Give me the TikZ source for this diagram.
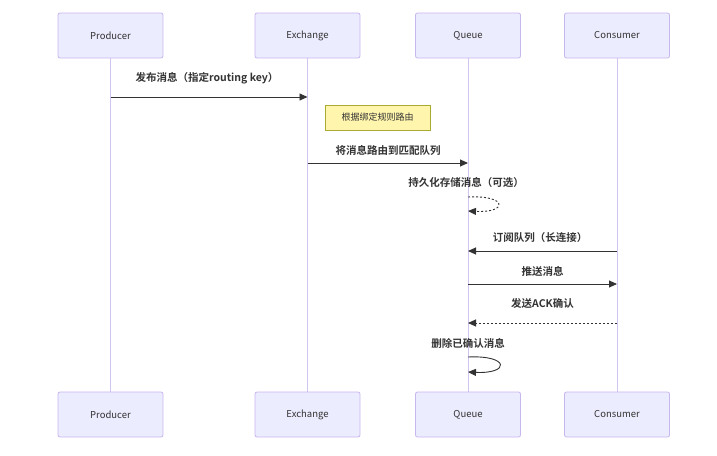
\documentclass[tikz,border=0pt]{standalone}
\usepackage{fontspec}
\setmainfont{Noto Sans CJK SC}
\newfontfamily\cjkbold{Noto Sans CJK SC Bold}
\usetikzlibrary{arrows.meta}
\definecolor{actfill}{HTML}{ECECFF}
\definecolor{actline}{HTML}{C8B6EE}
\definecolor{lifeline}{HTML}{D0C4F0}
\definecolor{txt}{HTML}{333333}
\definecolor{notefill}{HTML}{FFF5AD}
\definecolor{noteline}{HTML}{AAAA33}
\tikzset{
  actor/.style={draw=actline, fill=actfill, rounded corners=2pt, minimum width=105pt, minimum height=45pt, inner sep=0pt, font=\fontsize{9.5}{11}\selectfont, text=txt, line width=0.8pt},
  life/.style={draw=lifeline, line width=0.9pt},
  msg/.style={draw=txt, line width=0.9pt, -{Triangle[length=8pt,width=7pt]}},
  dmsg/.style={msg, dash pattern=on 2pt off 2pt},
  lbl/.style={font=\cjkbold\fontsize{10.5}{12}\selectfont, text=txt, inner sep=0pt},
  note/.style={draw=noteline, fill=notefill, minimum width=105pt, minimum height=25pt, inner sep=0pt, font=\fontsize{9}{11}\selectfont, text=txt, line width=0.6pt}
}
\begin{document}
\begin{tikzpicture}[x=1pt,y=-1pt]
\useasboundingbox (0,0) rectangle (717,455);
% lifelines
\coordinate (pT) at (110.5,58); \coordinate (pB) at (110.5,392);
\coordinate (eT) at (307.5,58); \coordinate (eB) at (307.5,392);
\coordinate (qT) at (468,58); \coordinate (qB) at (468,392);
\coordinate (cT) at (617,58); \coordinate (cB) at (617,392);
\draw[life] (pT) -- (pB);
\draw[life] (eT) -- (eB);
\draw[life] (qT) -- (qB);
\draw[life] (cT) -- (cB);
% actors
\node[actor] (p1) at (110.5,35.5) {Producer};
\node[actor] (e1) at (307.5,35.5) {Exchange};
\node[actor] (q1) at (468,35.5) {Queue};
\node[actor] (c1) at (617,35.5) {Consumer};
\node[actor] (p2) at (110.5,414.5) {Producer};
\node[actor] (e2) at (307.5,414.5) {Exchange};
\node[actor] (q2) at (468,414.5) {Queue};
\node[actor] (c2) at (617,414.5) {Consumer};
% message 1
\coordinate (m1a) at (110.5,97); \coordinate (m1b) at (307.5,97);
\node[lbl] (l1) at (207,78) {发布消息（指定routing key）};
\draw[msg] (m1a) -- (m1b);
% note
\node[note] (n1) at (377.5,117.5) {根据绑定规则路由};
% message 2
\coordinate (m2a) at (307.5,163); \coordinate (m2b) at (468,163);
\node[lbl] (l2) at (388,150) {将消息路由到匹配队列};
\draw[msg] (m2a) -- (m2b);
% message 3 self loop
\coordinate (m3a) at (468,197); \coordinate (m3b) at (468,211);
\node[lbl] (l3) at (466,183) {持久化存储消息（可选）};
\draw[dmsg] (m3a) .. controls (508,195) and (508,213) .. (m3b);
% message 4
\coordinate (m4a) at (617,251); \coordinate (m4b) at (468,251);
\node[lbl] (l4) at (540,238) {订阅队列（长连接）};
\draw[msg] (m4a) -- (m4b);
% message 5
\coordinate (m5a) at (468,284); \coordinate (m5b) at (617,284);
\node[lbl] (l5) at (542.5,271) {推送消息};
\draw[msg] (m5a) -- (m5b);
% message 6
\coordinate (m6a) at (617,323); \coordinate (m6b) at (468,323);
\node[lbl] (l6) at (542.5,304) {发送ACK确认};
\draw[dmsg] (m6a) -- (m6b);
% message 7 self loop
\coordinate (m7a) at (468,357); \coordinate (m7b) at (468,372);
\node[lbl] (l7) at (468,343) {删除已确认消息};
\draw[msg] (m7a) .. controls (510,355) and (510,374) .. (m7b);
\end{tikzpicture}
\end{document}
